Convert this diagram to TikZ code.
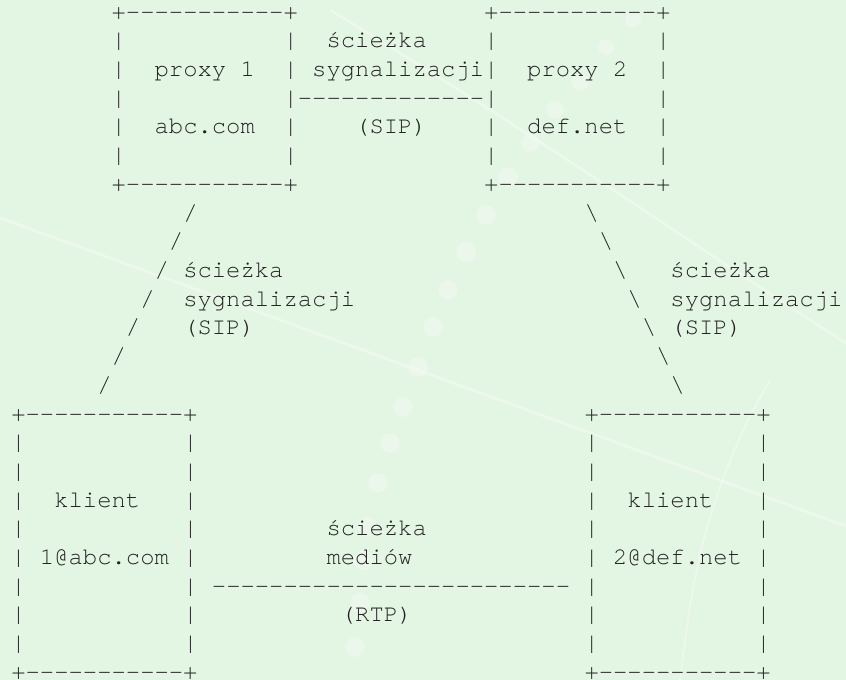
\documentclass[tikz,border=0pt]{standalone}
\usepackage{fontspec}
\setmonofont{TeX Gyre Cursor}
\definecolor{bgcol}{HTML}{E3F5E3}
\definecolor{ink}{HTML}{222222}
\tikzset{
  txt/.style={anchor=base west, inner sep=0pt, outer sep=0pt, text=ink,
    font=\ttfamily\fontsize{23.88bp}{28.7bp}\selectfont},
  deco/.style={white, opacity=0.25},
  decoline/.style={white, opacity=0.3, line width=3bp}
}
\newcommand\ch[3]{\node[txt] (t#1-#2) at ({11.3+#2*14.33},{19.2+(#1-1)*28.7}) {#3};}
\begin{document}
\begin{tikzpicture}[x=1bp,y=-1bp]
\fill[bgcol] (0,0) rectangle (846,680);
\useasboundingbox (0,0) rectangle (846,680);
% faint background decoration
\draw[decoline] (0,218) -- (846,526);
\draw[decoline] (330,10) .. controls (560,150) and (700,250) .. (846,343);
\draw[decoline, line width=2bp] (770,380) .. controls (700,500) and (690,600) .. (680,680);
\foreach \px/\py/\r in {633/20/8,606/47/8,580/82/9,555/110/9,530/143/9,508/177/10,486/215/10,466/252/10,448/290/10,433/327/10,418/367/10,403/407/10,390/443/10,378/483/10,367/527/10,363/560/10,360/603/10,355/647/10}
  \fill[deco] (\px,\py) circle (\r);
% row 1
\ch{1}{7}{+-----------+}
\ch{1}{33}{+-----------+}
% row 2
\ch{2}{7}{|}\ch{2}{19}{|}\ch{2}{22}{ścieżka}\ch{2}{33}{|}\ch{2}{45}{|}
% row 3
\ch{3}{7}{|}\ch{3}{10}{proxy 1}\ch{3}{19}{|}\ch{3}{21}{sygnalizacji}\ch{3}{33}{|}\ch{3}{36}{proxy 2}\ch{3}{45}{|}
% row 4
\ch{4}{7}{|}\ch{4}{19}{|-------------|}\ch{4}{45}{|}
% row 5
\ch{5}{7}{|}\ch{5}{10}{abc.com}\ch{5}{19}{|}\ch{5}{24}{(SIP)}\ch{5}{33}{|}\ch{5}{36}{def.net}\ch{5}{45}{|}
% row 6
\ch{6}{7}{|}\ch{6}{19}{|}\ch{6}{33}{|}\ch{6}{45}{|}
% row 7
\ch{7}{7}{+-----------+}
\ch{7}{33}{+-----------+}
% rows 8-14
\ch{8}{12}{/}\ch{8}{40}{\textbackslash}
\ch{9}{11}{/}\ch{9}{41}{\textbackslash}
\ch{10}{10}{/}\ch{10}{12}{ścieżka}\ch{10}{42}{\textbackslash}\ch{10}{46}{ścieżka}
\ch{11}{9}{/}\ch{11}{12}{sygnalizacji}\ch{11}{43}{\textbackslash}\ch{11}{46}{sygnalizacji}
\ch{12}{8}{/}\ch{12}{12}{(SIP)}\ch{12}{44}{\textbackslash}\ch{12}{46}{(SIP)}
\ch{13}{7}{/}\ch{13}{45}{\textbackslash}
\ch{14}{6}{/}\ch{14}{46}{\textbackslash}
% row 15
\ch{15}{0}{+-----------+}
\ch{15}{40}{+-----------+}
% rows 16-17
\ch{16}{0}{|}\ch{16}{12}{|}\ch{16}{40}{|}\ch{16}{52}{|}
\ch{17}{0}{|}\ch{17}{12}{|}\ch{17}{40}{|}\ch{17}{52}{|}
% row 18
\ch{18}{0}{|}\ch{18}{3}{klient}\ch{18}{12}{|}\ch{18}{40}{|}\ch{18}{43}{klient}\ch{18}{52}{|}
% row 19
\ch{19}{0}{|}\ch{19}{12}{|}\ch{19}{22}{ścieżka}\ch{19}{40}{|}\ch{19}{52}{|}
% row 20
\ch{20}{0}{|}\ch{20}{2}{1@abc.com}\ch{20}{12}{|}\ch{20}{22}{mediów}\ch{20}{40}{|}\ch{20}{42}{2@def.net}\ch{20}{52}{|}
% row 21
\ch{21}{0}{|}\ch{21}{12}{|}\ch{21}{14}{-------------------------}\ch{21}{40}{|}\ch{21}{52}{|}
% row 22
\ch{22}{0}{|}\ch{22}{12}{|}\ch{22}{23}{(RTP)}\ch{22}{40}{|}\ch{22}{52}{|}
% row 23
\ch{23}{0}{|}\ch{23}{12}{|}\ch{23}{40}{|}\ch{23}{52}{|}
% row 24
\ch{24}{0}{+-----------+}
\ch{24}{40}{+-----------+}
\end{tikzpicture}
\end{document}
